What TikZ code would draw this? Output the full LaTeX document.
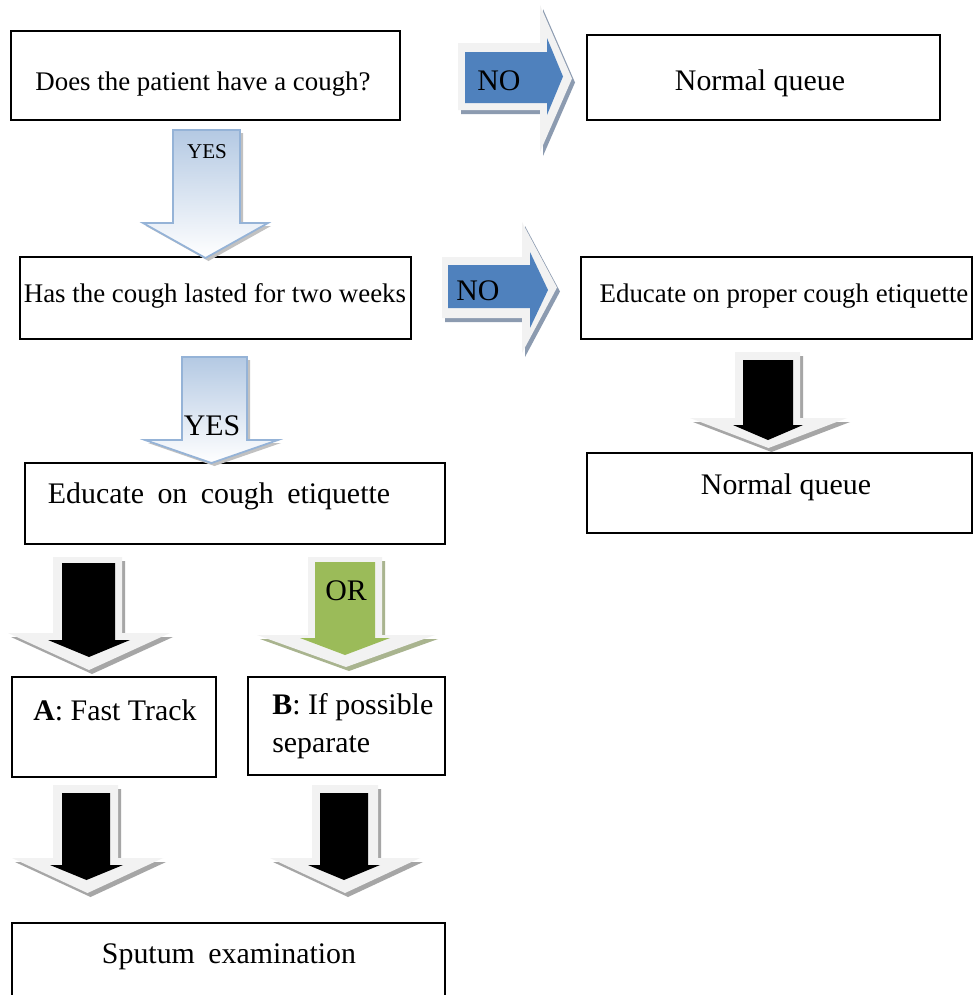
\documentclass[tikz,border=0pt]{standalone}
\usepackage{fontspec}
\setmainfont{Liberation Serif}
\usetikzlibrary{fit}
\definecolor{outerc}{HTML}{F2F2F2}
\definecolor{shadowc}{HTML}{A6A6A6}
\definecolor{blueshadow}{HTML}{8C9BB0}
\definecolor{greenshadow}{HTML}{A9B48F}
\definecolor{arrowblue}{HTML}{4F81BD}
\definecolor{arrowgreen}{HTML}{9BBB59}
\definecolor{yestop}{HTML}{B4C9E3}
\definecolor{yesborder}{HTML}{95B3D7}
% down block arrow: options, body x1, x2, y1, y2, head xl, xr, tip y
\newcommand{\dshape}[8]{\path[#1] (#2,#4) -- (#3,#4) -- (#3,#5) -- (#7,#5) -- ({(#6+#7)/2},#8) -- (#6,#5) -- (#2,#5) -- cycle;}
% right block arrow: options, body x1, x2, y1, y2, head ytop, ybot, tip x
\newcommand{\rshape}[8]{\path[#1] (#2,#4) -- (#3,#4) -- (#3,#6) -- (#8,{(#6+#7)/2}) -- (#3,#7) -- (#3,#5) -- (#2,#5) -- cycle;}
\newcommand{\wsp}{\hspace{0.45em}}
\tikzset{
  box/.style={draw=black, line width=0.8pt, inner sep=0pt},
  tbig/.style={font=\fontsize{17pt}{20pt}\selectfont, inner sep=0pt, anchor=base},
  tmid/.style={font=\fontsize{15.3pt}{17pt}\selectfont, inner sep=0pt, anchor=base},
  tsmall/.style={font=\fontsize{12pt}{14pt}\selectfont, inner sep=0pt, anchor=base},
  shad/.style={fill=shadowc, shift={(3,4)}},
  outer/.style={fill=outerc},
}
\begin{document}
\begin{tikzpicture}[x=0.02cm, y=-0.02cm]
\useasboundingbox (0,0) rectangle (973,995);
\fill[white] (0,0) rectangle (973,995);

% ---------- boxes ----------
\node[box, fit={(11,31) (400,120)}] (q1) {};
\node[box, fit={(587,35) (940,120)}] (n1) {};
\node[box, fit={(20,257) (411,339)}] (q2) {};
\node[box, fit={(581,257) (972,339)}] (e1) {};
\node[box, fit={(587,453) (972,533)}] (n2) {};
\node[box, fit={(25,463) (445,544)}] (e2) {};
\node[box, fit={(12,677) (216,777)}] (fa) {};
\node[box, fit={(248,677) (445,775)}] (fb) {};
\node[box, fit={(12,923) (445,1000)}] (sp) {};

% ---------- texts ----------
\node[tmid] (q1t) at (203,90) {Does the patient have a cough?};
\node[tbig] (n1t) at (760,90) {Normal queue};
\node[tmid] (q2t) at (215,302) {Has the cough lasted for two weeks};
\node[tmid] (e1t) at (784,302) {Educate on proper cough etiquette};
\node[tbig] (n2t) at (786,494) {Normal queue};
\node[tbig] (e2t) at (219,503) {Educate\wsp on\wsp cough\wsp etiquette};
\node[tbig] (fat) at (115,720) {\textbf{A}: Fast Track};
\node[tbig, anchor=base west] (fbt1) at (272,714) {\textbf{B}: If possible};
\node[tbig, anchor=base west] (fbt2) at (272,752) {separate};
\node[tbig] (spt) at (229,963) {Sputum\wsp examination};

% ---------- NO arrow 1 ----------
\rshape{fill=blueshadow, shift={(3,4)}}{458}{540}{43}{110}{5}{152}{572}
\rshape{outer}{458}{540}{43}{110}{5}{152}{572}
\rshape{fill=arrowblue}{465}{547}{52}{103}{38}{115}{563}
\node[tbig] (no1) at (499,90) {NO};

% ---------- NO arrow 2 ----------
\rshape{fill=blueshadow, shift={(3,4)}}{442}{522}{257}{318}{222}{353}{557}
\rshape{outer}{442}{522}{257}{318}{222}{353}{557}
\rshape{fill=arrowblue}{448}{530}{265}{308}{252}{328}{548}
\node[tbig] (no2) at (478,300) {NO};

% ---------- YES arrow 1 ----------
\dshape{fill=shadowc!70, shift={(3,3)}}{173}{240}{130}{223}{143}{268}{258}
\dshape{top color=yestop, bottom color=white, draw=yesborder, line width=1pt}{173}{240}{130}{223}{143}{268}{258}
\node[tsmall] (yes1) at (207,158) {YES};

% ---------- YES arrow 2 ----------
\dshape{fill=shadowc!70, shift={(3,3)}}{182}{247}{357}{440}{145}{278}{463}
\dshape{top color=yestop, bottom color=white, draw=yesborder, line width=1pt}{182}{247}{357}{440}{145}{278}{463}
\node[tbig] (yes2) at (212,435) {YES};

% ---------- black arrow to A ----------
\dshape{shad}{53}{122}{557}{633}{8}{170}{670}
\dshape{outer}{53}{122}{557}{633}{8}{170}{670}
\dshape{fill=black}{62}{115}{563}{640}{48}{130}{657}

% ---------- OR arrow ----------
\dshape{fill=greenshadow, shift={(3,4)}}{308}{382}{557}{635}{257}{435}{667}
\dshape{outer}{308}{382}{557}{635}{257}{435}{667}
\dshape{fill=arrowgreen}{315}{375}{562}{638}{300}{390}{655}
\node[tbig] (or) at (346,600) {OR};

% ---------- black arrow right column ----------
\dshape{shad}{735}{800}{352}{418}{690}{847}{448}
\dshape{outer}{735}{800}{352}{418}{690}{847}{448}
\dshape{fill=black}{743}{793}{360}{425}{733}{803}{440}

% ---------- bottom black arrows ----------
\dshape{shad}{53}{118}{785}{858}{12}{163}{893}
\dshape{outer}{53}{118}{785}{858}{12}{163}{893}
\dshape{fill=black}{62}{110}{793}{865}{50}{123}{880}

\dshape{shad}{312}{378}{785}{858}{270}{420}{893}
\dshape{outer}{312}{378}{785}{858}{270}{420}{893}
\dshape{fill=black}{320}{368}{793}{865}{308}{380}{880}
\end{tikzpicture}
\end{document}
